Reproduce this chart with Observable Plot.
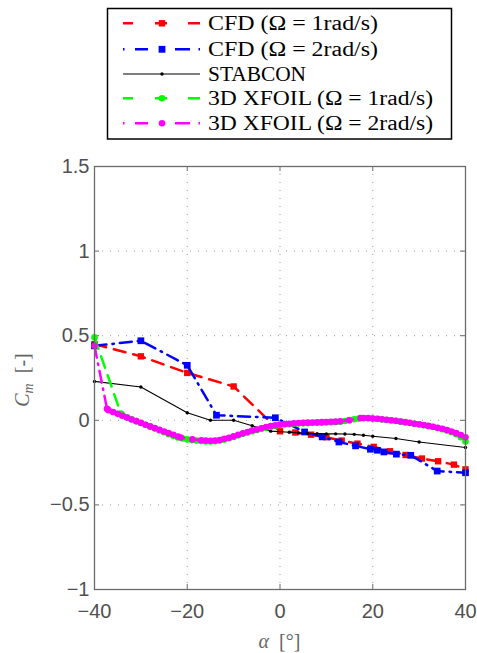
<!DOCTYPE html>
<html><head><meta charset="utf-8">
<script src="https://cdn.jsdelivr.net/npm/d3@7"></script>
<script src="https://cdn.jsdelivr.net/npm/@observablehq/plot@0.6"></script>
<style>
html,body{margin:0;padding:0;background:#fff;}
#wrap{width:477px;}
#legend{display:block;}
#chart svg{display:block;}
</style></head><body>
<div id="wrap"><svg id="legend" width="477" height="150"></svg><div id="chart"></div></div>
<script>
// ---------- data ----------
const seriesNames = ["CFD (\u03A9 = 1rad/s)", "CFD (\u03A9 = 2rad/s)", "STABCON", "3D XFOIL (\u03A9 = 1rad/s)", "3D XFOIL (\u03A9 = 2rad/s)"];
const xTicks = [-40, -20, 0, 20, 40];
const yTicks = [-1, -0.5, 0, 0.5, 1, 1.5];

const cfd1Alpha = [-40, -30, -20, -10, 0, 3.3, 6.7, 10, 13.3, 16.7, 20.2, 23.7, 27.1, 30.6, 34.1, 37.5, 40];
const cfd1Cm    = [0.45, 0.378, 0.28, 0.2, -0.065, -0.072, -0.085, -0.1, -0.12, -0.138, -0.157, -0.183, -0.205, -0.226, -0.242, -0.262, -0.29];

const cfd2Alpha = [-40, -30, -20, -13.7, -1, 5.3, 9.1, 12.7, 16.3, 19.5, 21, 22.4, 25.1, 28.2, 33.9, 40];
const cfd2Cm    = [0.44, 0.47, 0.325, 0.03, 0.015, -0.069, -0.098, -0.128, -0.151, -0.171, -0.177, -0.187, -0.2, -0.207, -0.3, -0.31];

const stabAlpha = [-40, -30, -20, -15, -10, -6, -2, 2, 4, 6, 8, 10, 12, 14, 16, 18, 20, 25, 30, 40];
const stabCm    = [0.23, 0.197, 0.045, 0.0, 0.0, -0.032, -0.064, -0.071, -0.075, -0.078, -0.079, -0.08, -0.08, -0.081, -0.083, -0.088, -0.094, -0.108, -0.128, -0.161];

const xf1Alpha = [-40, -34.3, -34, -33, -32, -31, -30, -29, -28, -27, -26, -25, -24, -23, -22, -21, -20, -19, -18, -17, -16, -15, -14, -13, -12, -11, -10, -9, -8, -7, -6, -5, -4, -3, -2, -1, 0, 1, 2, 3, 4, 5, 6, 7, 8, 9, 10, 11, 12, 13, 14, 15, 16, 17, 18, 19, 20, 21, 22, 23, 24, 25, 26, 27, 28, 29, 30, 31, 32, 33, 34, 35, 36, 37, 38, 39, 40];
const xf1Cm    = [0.49, 0.04, 0.031, 0.018, 0.006, -0.005, -0.016, -0.027, -0.038, -0.049, -0.06, -0.071, -0.082, -0.092, -0.101, -0.108, -0.113, -0.117, -0.12, -0.123, -0.125, -0.125, -0.124, -0.12, -0.114, -0.106, -0.098, -0.089, -0.08, -0.072, -0.064, -0.057, -0.05, -0.044, -0.038, -0.033, -0.028, -0.025, -0.023, -0.021, -0.019, -0.018, -0.017, -0.016, -0.015, -0.014, -0.013, -0.012, -0.01, -0.008, -0.004, 0.001, 0.006, 0.01, 0.012, 0.012, 0.01, 0.008, 0.005, 0.002, -0.001, -0.004, -0.008, -0.012, -0.016, -0.02, -0.024, -0.029, -0.034, -0.04, -0.046, -0.053, -0.061, -0.07, -0.082, -0.1, -0.125];

const xf2Alpha = [-40, -37.3, -37, -36, -35, -34, -33, -32, -31, -30, -29, -28, -27, -26, -25, -24, -23, -22, -21.4, -18.9, -17, -16, -15, -14, -13, -12, -11, -10, -9, -8, -7, -6, -5, -4, -3, -2, -1, 0, 1, 2, 3, 4, 5, 6, 7, 8, 9, 10, 11, 12, 13, 14.9, 17.4, 18, 19, 20, 21, 22, 23, 24, 25, 26, 27, 28, 29, 30, 31, 32, 33, 34, 35, 36, 37, 38, 39, 40];
const xf2Cm    = [0.44, 0.068, 0.06, 0.049, 0.038, 0.027, 0.016, 0.005, -0.005, -0.015, -0.026, -0.036, -0.046, -0.056, -0.066, -0.076, -0.086, -0.096, -0.102, -0.113, -0.118, -0.12, -0.121, -0.12, -0.116, -0.11, -0.103, -0.095, -0.086, -0.077, -0.069, -0.061, -0.054, -0.047, -0.04, -0.034, -0.029, -0.025, -0.022, -0.02, -0.018, -0.016, -0.015, -0.014, -0.013, -0.012, -0.011, -0.01, -0.009, -0.008, -0.006, 0.0, 0.013, 0.014, 0.013, 0.011, 0.009, 0.006, 0.003, 0.0, -0.003, -0.007, -0.011, -0.015, -0.02, -0.024, -0.028, -0.033, -0.038, -0.044, -0.05, -0.057, -0.066, -0.076, -0.087, -0.1];

const colors = ["#ff0000", "#0000ff", "#000000", "#00ff00", "#ff00ff"];

// ---------- tables ----------
const toRows = (a, c) => a.map((v, i) => ({alpha: v, cm: c[i]}));
const cfd1 = toRows(cfd1Alpha, cfd1Cm);
const cfd2 = toRows(cfd2Alpha, cfd2Cm);
const stab = toRows(stabAlpha, stabCm);
const xf1 = toRows(xf1Alpha, xf1Cm);
const xf2 = toRows(xf2Alpha, xf2Cm);

// ---------- layout ----------
const W = 477, H = 503, mL = 94, mR = 12, mT = 16, mB = 64;
const innerW = W - mL - mR, innerH = H - mT - mB;
const tickLen = 5;
const fmt = d => (d < 0 ? "\u2212" + (-d) : String(d));
const axisGray = "#6b6b6b";
const dashA = "12,8";
const dashDot = "12,6,1.5,6";

const chart = Plot.plot({
  width: W, height: H,
  marginLeft: mL, marginRight: mR, marginTop: mT, marginBottom: mB,
  x: {domain: [-40, 40]},
  y: {domain: [-1, 1.5]},
  style: {fontFamily: "'Liberation Sans', Arial, Helvetica, sans-serif", background: "white"},
  marks: [
    // grid
    Plot.ruleX(xTicks.slice(1, -1), {stroke: "#9a9a9a", strokeWidth: 1, strokeDasharray: "1,7"}),
    Plot.ruleY(yTicks.slice(1, -1), {stroke: "#9a9a9a", strokeWidth: 1, strokeDasharray: "1,7"}),
    // inward ticks
    Plot.ruleX(xTicks, {stroke: axisGray, strokeWidth: 1, insetTop: innerH - tickLen}),
    Plot.ruleX(xTicks, {stroke: axisGray, strokeWidth: 1, insetBottom: innerH - tickLen}),
    Plot.ruleY(yTicks, {stroke: axisGray, strokeWidth: 1, insetRight: innerW - tickLen}),
    Plot.ruleY(yTicks, {stroke: axisGray, strokeWidth: 1, insetLeft: innerW - tickLen}),
    // series
    Plot.line(cfd1, {x: "alpha", y: "cm", stroke: colors[0], strokeWidth: 2.5, strokeDasharray: dashA}),
    Plot.dot(cfd1, {x: "alpha", y: "cm", symbol: "square", r: 3.6, fill: colors[0], stroke: "none"}),
    Plot.line(cfd2, {x: "alpha", y: "cm", stroke: colors[1], strokeWidth: 2.5, strokeDasharray: dashDot}),
    Plot.dot(cfd2, {x: "alpha", y: "cm", symbol: "square", r: 3.8, fill: colors[1], stroke: "none"}),
    Plot.line(stab, {x: "alpha", y: "cm", stroke: colors[2], strokeWidth: 1.1}),
    Plot.dot(stab, {x: "alpha", y: "cm", r: 1.7, fill: colors[2], stroke: "none"}),
    Plot.line(xf1, {x: "alpha", y: "cm", stroke: colors[3], strokeWidth: 2.5, strokeDasharray: dashA}),
    Plot.dot(xf1, {x: "alpha", y: "cm", r: 3.3, fill: colors[3], stroke: "none"}),
    Plot.line(xf2, {x: "alpha", y: "cm", stroke: colors[4], strokeWidth: 2.5, strokeDasharray: dashDot}),
    Plot.dot(xf2, {x: "alpha", y: "cm", r: 3.3, fill: colors[4], stroke: "none"}),
    // frame + axes
    Plot.frame({stroke: axisGray, strokeWidth: 1.3}),
    Plot.axisX({ticks: xTicks, tickFormat: fmt, tickSize: 0, tickPadding: 14, fontSize: 20, fill: "#505050", label: null}),
    Plot.axisY({ticks: yTicks, tickFormat: fmt, tickSize: 0, tickPadding: 5, fontSize: 20, fill: "#505050", label: null})
  ]
});
document.getElementById("chart").appendChild(chart);

// axis titles (mixed italic/upright text)
const cs = d3.select(chart);
const xl = cs.append("text").attr("x", mL + innerW / 2).attr("y", 498).attr("text-anchor", "middle")
  .attr("font-family", "'Liberation Serif', 'DejaVu Serif', serif").attr("font-size", 20).attr("fill", "#666");
xl.append("tspan").attr("font-style", "italic").text("\u03B1");
xl.append("tspan").text("\u2002[\u00B0]");

const yl = cs.append("text").attr("transform", "translate(29,230) rotate(-90)").attr("text-anchor", "middle")
  .attr("font-family", "'Liberation Serif', 'DejaVu Serif', serif").attr("font-size", 20).attr("fill", "#666");
yl.append("tspan").attr("font-style", "italic").text("C");
yl.append("tspan").attr("font-style", "italic").attr("font-size", 14).attr("dy", 4).text("m");
yl.append("tspan").attr("dy", -4).text("\u2002[-]");

// ---------- legend ----------
const lg = d3.select("#legend");
lg.append("rect").attr("x", 107.5).attr("y", 8.5).attr("width", 344).attr("height", 130.5)
  .attr("fill", "white").attr("stroke", "black").attr("stroke-width", 1.5);
const rowY = [23.3, 49.3, 74, 98.3, 123.3];
const legDash = ["10,22,12,21,12", "1.5,10.5,13,27,15,8.5,1.5", null, "10,22,12,21,12", "1.5,10.5,13,27,15,8.5,1.5"];
const legWidths = [170, 170, 98, 225, 225];
seriesNames.forEach((name, i) => {
  const y = rowY[i];
  const ln = lg.append("line").attr("x1", 123).attr("x2", 200).attr("y1", y).attr("y2", y)
    .attr("stroke", colors[i]).attr("stroke-width", i === 2 ? 1.1 : 2.5);
  if (legDash[i]) ln.attr("stroke-dasharray", legDash[i]);
  if (i < 2) {
    const s = i === 0 ? 6.4 : 6.8;
    lg.append("rect").attr("x", 162 - s / 2).attr("y", y - s / 2).attr("width", s).attr("height", s).attr("fill", colors[i]);
  } else {
    lg.append("circle").attr("cx", 162).attr("cy", y).attr("r", i === 2 ? 1.7 : 3.3).attr("fill", colors[i]);
  }
  lg.append("text").attr("x", 208).attr("y", y + 6.5)
    .attr("font-family", "'Liberation Serif', 'DejaVu Serif', serif").attr("font-size", 20).attr("fill", "#000")
    .attr("textLength", legWidths[i]).attr("lengthAdjust", "spacingAndGlyphs")
    .text(name);
});
</script>
</body></html>
